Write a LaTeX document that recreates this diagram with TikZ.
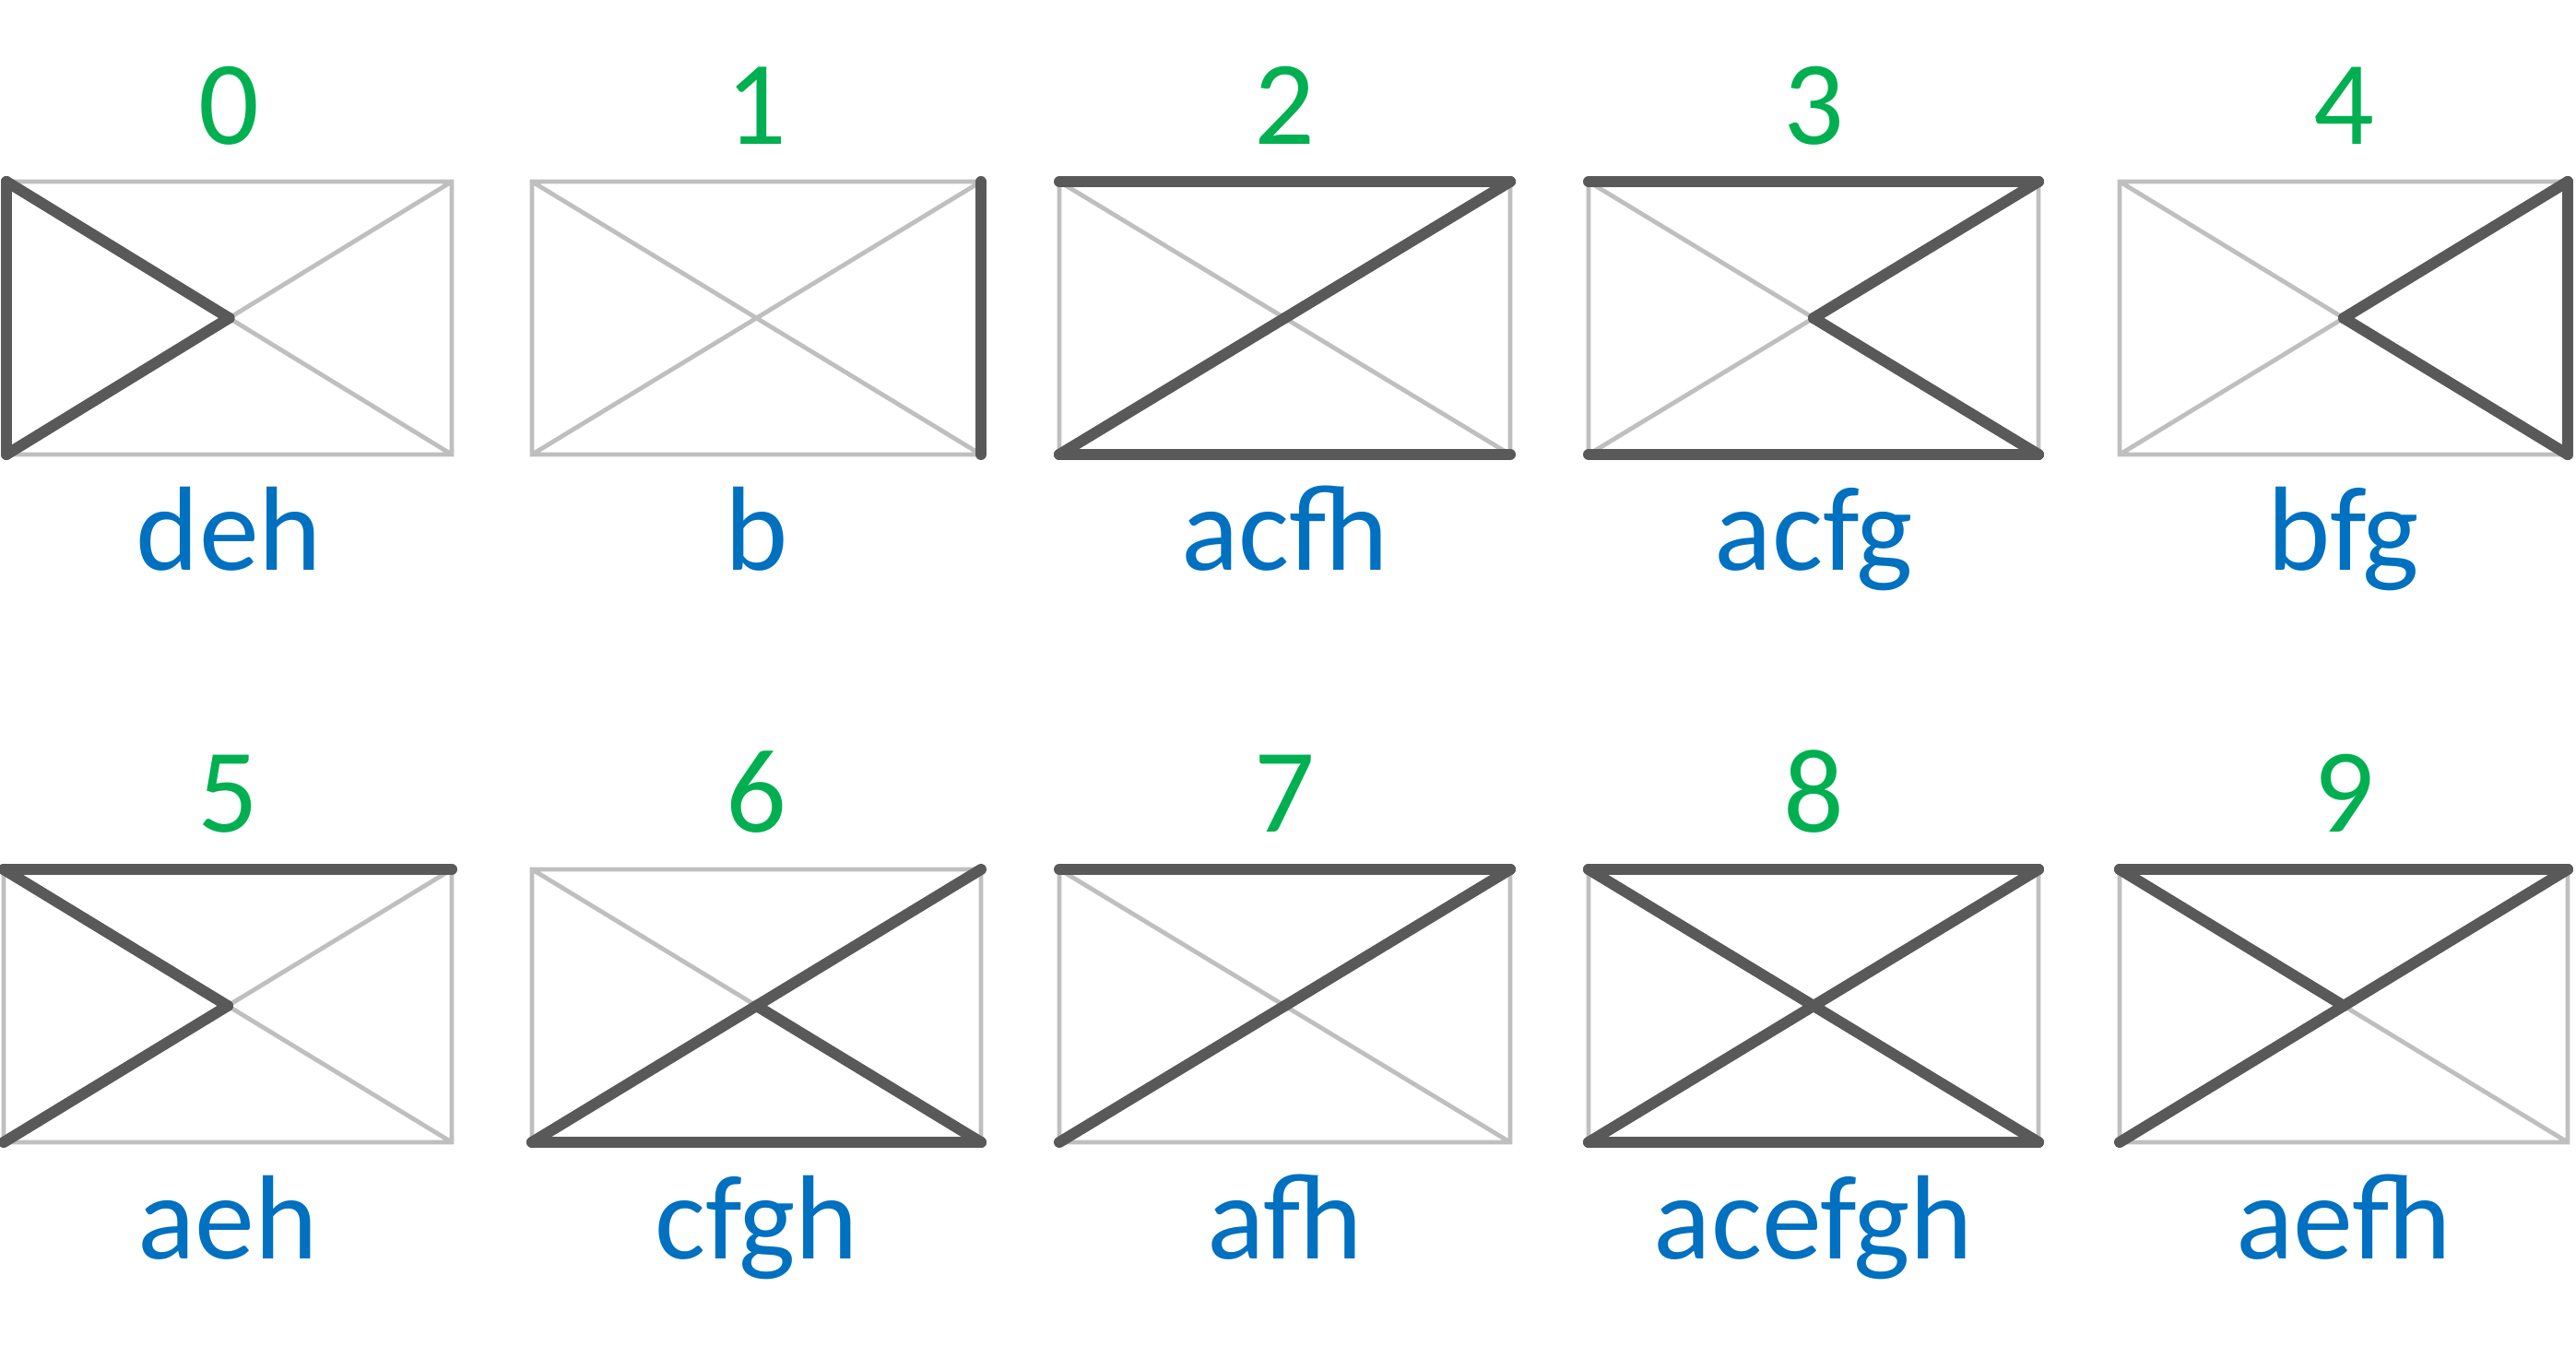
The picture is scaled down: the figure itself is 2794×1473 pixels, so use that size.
\documentclass[tikz,border=0pt]{standalone}
\usepackage{fontspec}
\setmainfont{Carlito}
\definecolor{dgreen}{HTML}{00B050}
\definecolor{lblue}{HTML}{0070C0}
\definecolor{lgray}{HTML}{BFBFBF}
\definecolor{dgray}{HTML}{595959}
\tikzset{
  frame/.style={draw=lgray, line width=1.2pt},
  hot/.style={draw=dgray, line width=3pt, line cap=round},
  digit/.style={text=dgreen, font=\fontsize{32.5}{39}\selectfont, anchor=base, inner sep=0pt},
  lbl/.style={text=lblue, font=\fontsize{32.5}{39}\selectfont, anchor=base, inner sep=0pt},
}
% #1 name, #2 L, #3 R, #4 T, #5 B
\newcommand\mkbox[5]{%
  \coordinate (#1tl) at (#2,#4);
  \coordinate (#1tr) at (#3,#4);
  \coordinate (#1bl) at (#2,#5);
  \coordinate (#1br) at (#3,#5);
  \coordinate (#1c) at ({(#2+#3)/2},{(#4+#5)/2});
  \draw[frame] (#1tl) rectangle (#1br) (#1tl) -- (#1br) (#1bl) -- (#1tr);
}
\newcommand\hotsegs[2]{\foreach \p/\q in {#2} {\draw[hot] (#1\p) -- (#1\q);}}
\begin{document}
\begin{tikzpicture}[x=0.25pt, y=-0.25pt]
\useasboundingbox (0,0) rectangle (2794,1473);
% row 1
\mkbox{b0}{7}{490}{197}{493}
\mkbox{b1}{577}{1064}{197}{493}
\mkbox{b2}{1149}{1638}{197}{493}
\mkbox{b3}{1723}{2211}{197}{493}
\mkbox{b4}{2299}{2785}{197}{493}
% row 2
\mkbox{b5}{4}{490}{943}{1239}
\mkbox{b6}{577}{1064}{943}{1239}
\mkbox{b7}{1149}{1638}{943}{1239}
\mkbox{b8}{1723}{2211}{943}{1239}
\mkbox{b9}{2299}{2785}{943}{1239}
% highlighted segments
\hotsegs{b0}{tl/bl, tl/c, bl/c}
\hotsegs{b1}{tr/br}
\hotsegs{b2}{tl/tr, bl/br, c/tr, bl/c}
\hotsegs{b3}{tl/tr, bl/br, c/tr, c/br}
\hotsegs{b4}{tr/br, c/tr, c/br}
\hotsegs{b5}{tl/tr, tl/c, bl/c}
\hotsegs{b6}{bl/br, c/tr, c/br, bl/c}
\hotsegs{b7}{tl/tr, c/tr, bl/c}
\hotsegs{b8}{tl/tr, bl/br, tl/c, c/tr, c/br, bl/c}
\hotsegs{b9}{tl/tr, tl/c, c/tr, bl/c}
% digits
\node[digit] (n0) at (248.5,157) {0};
\node[digit] (n1) at (820.5,157) {1};
\node[digit] (n2) at (1393.5,157) {2};
\node[digit] (n3) at (1967,157) {3};
\node[digit] (n4) at (2542,157) {4};
\node[digit] (n5) at (247,903) {5};
\node[digit] (n6) at (820.5,903) {6};
\node[digit] (n7) at (1393.5,903) {7};
\node[digit] (n8) at (1967,903) {8};
\node[digit] (n9) at (2542,903) {9};
% labels
\node[lbl] (l0) at (248.5,619) {deh};
\node[lbl] (l1) at (820.5,619) {b};
\node[lbl] (l2) at (1393.5,619) {acfh};
\node[lbl] (l3) at (1967,619) {acfg};
\node[lbl] (l4) at (2542,619) {bfg};
\node[lbl] (l5) at (247,1365) {aeh};
\node[lbl] (l6) at (820.5,1365) {cfgh};
\node[lbl] (l7) at (1393.5,1365) {afh};
\node[lbl] (l8) at (1967,1365) {acefgh};
\node[lbl] (l9) at (2542,1365) {aefh};
\end{tikzpicture}
\end{document}
